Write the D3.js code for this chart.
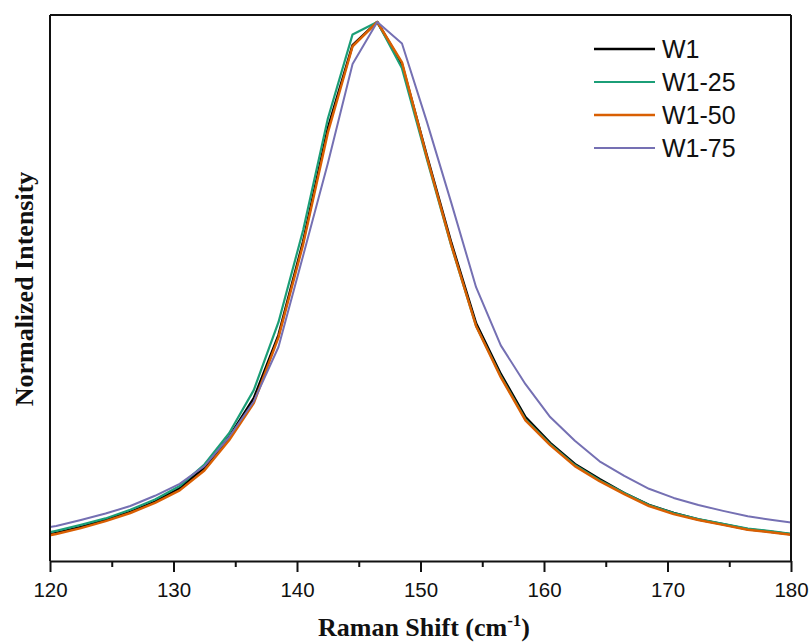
<!DOCTYPE html>
<html>
<head>
<meta charset="utf-8">
<script src="https://cdn.jsdelivr.net/npm/d3@7"></script>
<style>
body{margin:0;background:#fff}
.tick text{font-family:"Liberation Sans",Arial,sans-serif;font-size:20.5px;fill:#111}
.label{font-family:"Liberation Serif","Times New Roman",serif;font-weight:bold;font-size:26px;fill:#111}
.legend{font-family:"Liberation Sans",Arial,sans-serif;font-size:25px;fill:#111}
</style>
</head>
<body>
<svg id="chart" width="809" height="642"></svg>
<script>
// Raman shift (cm-1) sample points
let shift = [118.5,120.5,122.5,124.5,126.5,128.5,130.5,132.5,134.5,136.5,138.5,140.5,142.5,144.5,146.5,
  148.5,150.5,152.5,154.5,156.5,158.5,160.5,162.5,164.5,166.5,168.5,170.5,172.5,174.5,176.5,178.5,180.5]

let W1 = [0.043,0.052,0.063,0.076,0.091,0.110,0.135,0.173,0.230,0.302,0.419,0.593,0.803,0.957,1.000,
  0.922,0.753,0.590,0.441,0.347,0.267,0.219,0.180,0.152,0.126,0.104,0.089,0.077,0.068,0.059,0.054,0.048]
let W1_25 = [0.046,0.056,0.067,0.079,0.095,0.114,0.139,0.179,0.237,0.317,0.443,0.614,0.821,0.977,1.000,
  0.914,0.747,0.584,0.436,0.343,0.263,0.217,0.178,0.150,0.126,0.104,0.089,0.078,0.069,0.060,0.055,0.049]
let W1_50 = [0.042,0.050,0.061,0.074,0.089,0.108,0.131,0.168,0.224,0.293,0.415,0.588,0.795,0.955,1.000,
  0.925,0.751,0.586,0.436,0.341,0.261,0.215,0.176,0.148,0.124,0.102,0.087,0.076,0.067,0.058,0.053,0.047]
let W1_75 = [0.057,0.065,0.076,0.088,0.102,0.121,0.143,0.176,0.230,0.296,0.397,0.567,0.738,0.922,1.000,
  0.960,0.816,0.664,0.508,0.400,0.328,0.267,0.223,0.185,0.158,0.134,0.117,0.104,0.093,0.083,0.076,0.070]

let names = ["W1","W1-25","W1-50","W1-75"]
let colors = ["#000000","#1b9e77","#d95f02","#7570b3"]
let widths = [2.5,2.2,2.5,2]
let xTicks = [120,130,140,150,160,170,180]

let series = [W1,W1_25,W1_50,W1_75]

let svg = d3.select("#chart")
let mLeft = 50, mRight = 791, mTop = 15, mBottom = 561

let xScale = d3.scaleLinear().domain([120,180]).range([mLeft,mRight])
let yScale = d3.scaleLinear().domain([0,1]).range([mBottom,22])

svg.append("clipPath").attr("id","plotclip")
  .append("rect").attr("x",mLeft).attr("y",mTop).attr("width",mRight-mLeft).attr("height",mBottom-mTop)

let line = d3.line()
  .x(function(d,i){return xScale(shift[i])})
  .y(function(d){return yScale(d)})

svg.append("g").attr("clip-path","url(#plotclip)")
  .selectAll(".curve")
  .data(series)
  .enter()
  .append("path")
  .attr("class","curve")
  .attr("d",line)
  .attr("fill","none")
  .attr("stroke",function(d,i){return colors[i]})
  .attr("stroke-width",function(d,i){return widths[i]})
  .attr("stroke-linejoin","round")

// frame: top, right, left
svg.append("line").attr("x1",mLeft).attr("x2",mRight).attr("y1",mTop).attr("y2",mTop)
  .attr("stroke","#111").attr("stroke-width",2)
svg.append("line").attr("x1",mRight).attr("x2",mRight).attr("y1",mTop).attr("y2",mBottom)
  .attr("stroke","#111").attr("stroke-width",2)
svg.append("line").attr("x1",mLeft).attr("x2",mLeft).attr("y1",mTop).attr("y2",mBottom)
  .attr("stroke","#111").attr("stroke-width",2)

// X axis, major + minor ticks
let x_minor = d3.axisBottom(xScale).tickValues(d3.range(125,180,10)).tickSize(6).tickFormat("")
svg.append("g").attr("class","axis")
  .attr("transform",`translate(0,${mBottom})`)
  .call(x_minor)
  .call(g => g.select(".domain").remove())
  .selectAll("line").attr("stroke","#111").attr("stroke-width",2)

let x_axis = d3.axisBottom(xScale).tickValues(xTicks).tickSize(11).tickSizeOuter(0).tickPadding(10)
let gx = svg.append("g").attr("class","axis")
  .attr("transform",`translate(0,${mBottom})`)
  .call(x_axis)
gx.select(".domain").attr("stroke","#111").attr("stroke-width",2)
gx.selectAll(".tick line").attr("stroke","#111").attr("stroke-width",2)

// Labels
svg.append("g")
  .attr("transform",`translate(${33},${289}) rotate(270)`)
  .append("text")
  .attr("class","label")
  .attr("text-anchor","middle")
  .text("Normalized Intensity")

let xl = svg.append("text")
  .attr("class","label")
  .attr("x",424)
  .attr("y",636)
  .attr("text-anchor","middle")
xl.append("tspan").text("Raman Shift (cm")
xl.append("tspan").attr("font-size","17px").attr("dy",-10).text("-1")
xl.append("tspan").attr("dy",10).text(")")

// legend
names.forEach(function(d,i){
  let lgnd = svg.append("g").attr("transform",`translate(${594},${49 + i*33})`)
  lgnd.append("line").attr("x1",0).attr("x2",61).attr("y1",0).attr("y2",0)
    .attr("stroke",colors[i]).attr("stroke-width",widths[i])
  lgnd.append("text").attr("class","legend").attr("x",68).attr("y",8.5).text(d)
})
</script>
</body>
</html>
